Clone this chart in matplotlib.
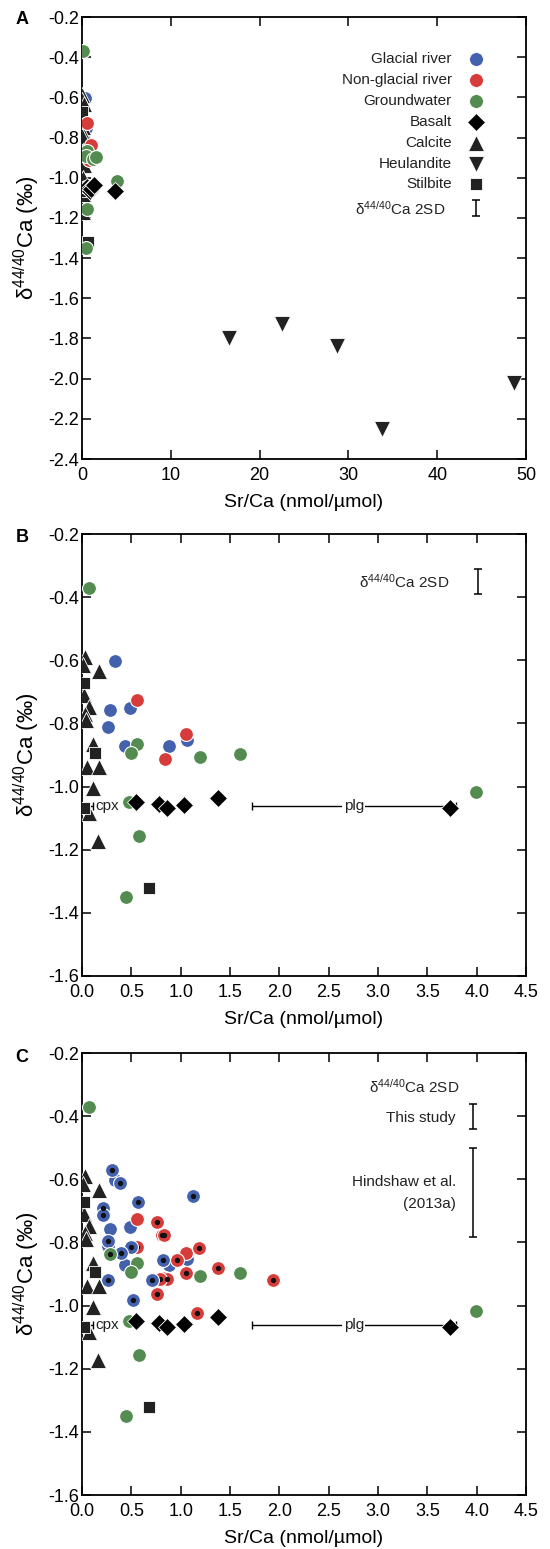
import numpy as np
import matplotlib
matplotlib.use("Agg")
import matplotlib.pyplot as plt

plt.rcParams["font.family"] = ["Liberation Sans", "DejaVu Sans"]
plt.rcParams["mathtext.fontset"] = "custom"
plt.rcParams["mathtext.rm"] = "Liberation Sans"
plt.rcParams["mathtext.it"] = "Liberation Sans:italic"
plt.rcParams["axes.unicode_minus"] = False

BLUE = "#4361ad"
RED = "#d53c3a"
GREEN = "#548b50"
DARK = "#222222"

# ---- this study (panels A, B, C) ----
glacial_x = [0.334, 0.284, 0.486, 0.267, 0.436, 0.885, 1.06]
glacial_y = [-0.601, -0.757, -0.750, -0.812, -0.872, -0.873, -0.854]

nonglacial_x = [0.554, 1.05, 0.841]
nonglacial_y = [-0.726, -0.835, -0.912]

ground_x = [0.07, 0.554, 0.496, 1.20, 1.60, 3.99, 0.577, 0.45, 0.48]
ground_y = [-0.37, -0.865, -0.894, -0.906, -0.897, -1.018, -1.157, -1.35, -1.048]

basalt_x = [0.547, 0.783, 0.865, 1.037, 1.381, 3.73]
basalt_y = [-1.048, -1.056, -1.067, -1.058, -1.035, -1.067]

calcite_x = [0.03, 0.013, 0.175, 0.02, 0.074, 0.035, 0.045, 0.115, 0.047, 0.175,
             0.115, 0.074, 0.159]
calcite_y = [-0.59, -0.615, -0.635, -0.71, -0.748, -0.77, -0.79, -0.865, -0.937,
             -0.939, -1.003, -1.083, -1.173]

stilbite_x = [0.02, 0.132, 0.02, 0.68]
stilbite_y = [-0.673, -0.894, -1.067, -1.32]

# heulandite only fits on panel A
heul_x = [16.5, 22.5, 28.7, 33.8, 48.7]
heul_y = [-1.80, -1.73, -1.84, -2.25, -2.02]

# ---- Hindshaw et al. (2013a), panel C only ----
hind_glacial_x = [0.307, 0.385, 1.128, 0.564, 0.216, 0.216, 0.26, 0.496, 0.395,
                  0.824, 0.267, 0.706, 0.52]
hind_glacial_y = [-0.571, -0.611, -0.652, -0.673, -0.692, -0.713, -0.795, -0.815,
                  -0.835, -0.857, -0.92, -0.92, -0.981]
hind_nonglacial_x = [0.757, 0.807, 0.83, 1.189, 0.554, 0.966, 1.381, 1.054, 0.858,
                     0.79, 0.757, 1.162, 1.938]
hind_nonglacial_y = [-0.735, -0.775, -0.775, -0.817, -0.815, -0.857, -0.88, -0.898,
                     -0.917, -0.917, -0.962, -1.023, -0.92]
hind_ground_x = [0.284]
hind_ground_y = [-0.837]

# mineral ranges (Sr/Ca) drawn as bars
cpx_range = [0.047, 0.115]
plg_range = [1.72, 3.79]
mineral_y = -1.062

SD_THIS = 0.04
SD_HIND = 0.141

DELTA = "\u03b4$^{\\mathrm{44/40}}$Ca"


def circles(ax, x, y, c, z=3):
    ax.plot(x, y, "o", ms=10, mfc=c, mec="white", mew=0.8, ls="none", zorder=z)


def minerals(ax):
    ax.plot(calcite_x, calcite_y, "^", ms=11, mfc=DARK, mec="white", mew=0.6, ls="none", zorder=3)
    ax.plot(stilbite_x, stilbite_y, "s", ms=9, mfc=DARK, mec="white", mew=0.6, ls="none", zorder=3)


def basalt(ax):
    ax.plot(basalt_x, basalt_y, "D", ms=9.5, mfc="black", mec="white", mew=0.6, ls="none", zorder=5)


def style(ax, xlim, ylim, xticks, yticks, xfmt):
    ax.set_xlim(*xlim)
    ax.set_ylim(*ylim)
    ax.set_xticks(xticks)
    ax.set_yticks(yticks)
    ax.set_xticklabels([xfmt % v for v in xticks])
    ax.set_yticklabels(["%.1f" % v for v in yticks])
    ax.tick_params(direction="in", top=True, right=True, length=6.5, width=1.1,
                   labelsize=13, pad=2)
    ax.tick_params(axis="x", pad=6)
    for s in ax.spines.values():
        s.set_linewidth(1.3)
    ax.set_xlabel("Sr/Ca (nmol/\u00b5mol)", fontsize=14, labelpad=7)
    ax.set_ylabel(DELTA + " (\u2030)", fontsize=16)
    ax.yaxis.set_label_coords(-0.09, 0.5)


def ranges(ax):
    mid = (cpx_range[0] + cpx_range[1]) / 2
    ax.errorbar(mid, mineral_y, xerr=(cpx_range[1] - cpx_range[0]) / 2, fmt="none",
                ecolor="black", elinewidth=1.0, capsize=3, capthick=1.0, zorder=2)
    ax.text(cpx_range[1] + 0.02, mineral_y, "cpx", fontsize=11, va="center", ha="left",
            color=DARK, zorder=2)
    mid = (plg_range[0] + plg_range[1]) / 2
    ax.errorbar(mid, mineral_y, xerr=(plg_range[1] - plg_range[0]) / 2, fmt="none",
                ecolor="black", elinewidth=1.0, capsize=3, capthick=1.0, zorder=2)
    ax.text(mid, mineral_y, "plg", fontsize=11, va="center", ha="center", color=DARK,
            bbox=dict(fc="white", ec="none", pad=1), zorder=2)


def sd_bar(ax, x, y, half):
    ax.errorbar(x, y, yerr=half, fmt="none", ecolor="black", elinewidth=1.1,
                capsize=3.2, capthick=1.1)


def main():
    fig = plt.figure(figsize=(5.5, 15.49), dpi=100)
    L, W, H = 82 / 550, 444 / 550, 442 / 1549
    axA = fig.add_axes([L, 1 - 459 / 1549, W, H])
    axB = fig.add_axes([L, 1 - 976 / 1549, W, H])
    axC = fig.add_axes([L, 1 - 1495 / 1549, W, H])

    # ---- A ----
    ax = axA
    circles(ax, glacial_x, glacial_y, BLUE, z=2)
    minerals(ax)
    circles(ax, nonglacial_x, nonglacial_y, RED)
    circles(ax, ground_x, ground_y, GREEN)
    basalt(ax)
    ax.plot(heul_x, heul_y, "v", ms=11, mfc=DARK, mec="white", mew=0.6, ls="none", zorder=3)
    style(ax, (0, 50), (-2.4, -0.2), np.arange(0, 51, 10), np.arange(-2.4, -0.19, 0.2), "%d")

    # legend, drawn by hand (text right aligned, marker on the right)
    leg = [("Glacial river", "o", BLUE, 10), ("Non-glacial river", "o", RED, 10),
           ("Groundwater", "o", GREEN, 10), ("Basalt", "D", "black", 9.5),
           ("Calcite", "^", DARK, 11), ("Heulandite", "v", DARK, 11),
           ("Stilbite", "s", DARK, 9)]
    for i, (lab, m, c, ms) in enumerate(leg):
        yy = 0.905 - i * 0.0473
        ax.plot(0.887, yy, m, ms=ms, mfc=c, mec="white", mew=0.6, transform=ax.transAxes)
        ax.text(0.833, yy, lab, fontsize=11, ha="right", va="center", color=DARK,
                transform=ax.transAxes)
    ax.text(0.818, 0.566, DELTA + " 2SD", fontsize=11, ha="right", va="center",
            color=DARK, transform=ax.transAxes)
    sd_bar(ax, 44.4, -1.15, SD_THIS)

    # ---- B ----
    ax = axB
    ranges(ax)
    circles(ax, glacial_x, glacial_y, BLUE)
    minerals(ax)
    circles(ax, nonglacial_x, nonglacial_y, RED)
    circles(ax, ground_x, ground_y, GREEN)
    basalt(ax)
    style(ax, (0, 4.5), (-1.6, -0.2), np.arange(0, 4.51, 0.5), np.arange(-1.6, -0.19, 0.2), "%.1f")
    ax.text(3.72, -0.35, DELTA + " 2SD", fontsize=11, ha="right", va="center", color=DARK)
    sd_bar(ax, 4.01, -0.35, SD_THIS)

    # ---- C ----
    ax = axC
    ranges(ax)
    circles(ax, glacial_x, glacial_y, BLUE)
    minerals(ax)
    circles(ax, nonglacial_x, nonglacial_y, RED)
    circles(ax, ground_x, ground_y, GREEN)
    for hx, hy, c in [(hind_nonglacial_x, hind_nonglacial_y, RED),
                      (hind_glacial_x, hind_glacial_y, BLUE),
                      (hind_ground_x, hind_ground_y, GREEN)]:
        circles(ax, hx, hy, c, z=4)
        ax.plot(hx, hy, "o", ms=2.8, color="#111111", ls="none", zorder=4)
    basalt(ax)
    style(ax, (0, 4.5), (-1.6, -0.2), np.arange(0, 4.51, 0.5), np.arange(-1.6, -0.19, 0.2), "%.1f")
    ax.text(3.83, -0.307, DELTA + " 2SD", fontsize=11, ha="right", va="center", color=DARK)
    ax.text(3.79, -0.405, "This study", fontsize=11, ha="right", va="center", color=DARK)
    sd_bar(ax, 3.96, -0.402, SD_THIS)
    ax.text(3.79, -0.608, "Hindshaw et al.", fontsize=11, ha="right", va="center", color=DARK)
    ax.text(3.79, -0.677, "(2013a)", fontsize=11, ha="right", va="center", color=DARK)
    sd_bar(ax, 3.96, -0.643, SD_HIND)

    # panel letters
    for lab, top in [("A", 16), ("B", 534), ("C", 1053)]:
        fig.text(22 / 550, 1 - (top + 4) / 1549, lab, fontsize=13, fontweight="bold",
                 ha="center", va="center")

    fig.savefig("out.png", dpi=100)
    plt.close(fig)


if __name__ == "__main__":
    main()
